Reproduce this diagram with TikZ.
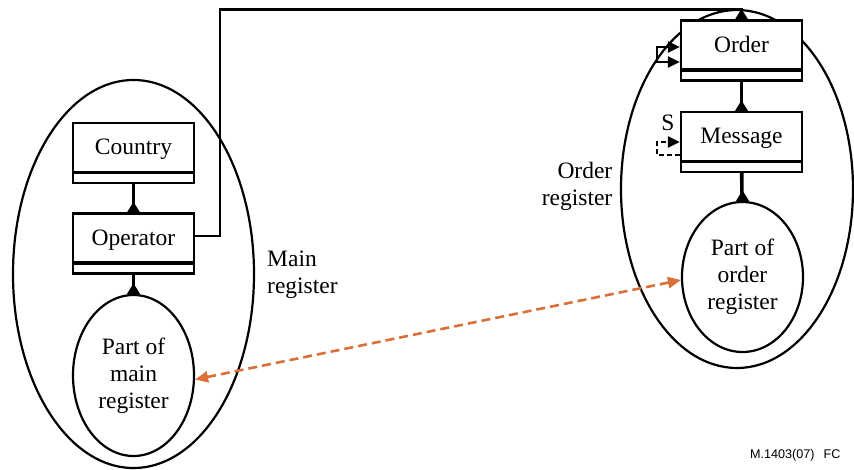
\documentclass[tikz,border=0pt]{standalone}
\usepackage{fontspec}
\setmainfont{Liberation Serif}
\newfontfamily\figfont{Liberation Sans}
\usetikzlibrary{arrows.meta,shapes.geometric}
\definecolor{linkorange}{RGB}{216,112,56}
\begin{document}
\begin{tikzpicture}[x=1pt,y=-1pt,
  txt/.style={font=\fontsize{23.5}{27}\selectfont, inner sep=0pt},
  register/.style={draw, ellipse, line width=2.2pt, inner sep=0pt},
  classbox/.style={txt, draw, line width=2.2pt, fill=white,
    minimum width=121pt, minimum height=60pt,
    text height=16pt, text depth=12pt,
    path picture={\draw[line width=3.6pt]
      ([yshift=10.5pt]path picture bounding box.south west) --
      ([yshift=10.5pt]path picture bounding box.south east);}},
  partell/.style={txt, draw, ellipse, line width=2.2pt, fill=white,
    align=center, minimum width=121pt},
  link/.style={line width=3.6pt},
  refline/.style={line width=2.2pt},
  tip/.style={-{Triangle[length=12pt,width=11pt]}},
  orangelink/.style={draw=linkorange, line width=2.6pt,
    dash pattern=on 9pt off 5pt,
    {Triangle[length=13pt,width=11pt]}-{Triangle[length=13pt,width=11pt]}}
]
\useasboundingbox (0,0) rectangle (854,470);

% register outlines
\node[register, minimum width=241pt, minimum height=388pt] (mainreg) at (133.5,274) {};
\node[register, minimum width=232pt, minimum height=358pt] (ordreg) at (737,189) {};

% main register
\node[classbox] (country) at (133.5,153) {Country};
\node[classbox] (op) at (133.5,243.5) {Operator};
\node[partell, minimum height=161pt] (pm) at (133.5,375.5) {Part of\\main\\register};

% order register
\node[classbox] (order) at (741.5,50.5) {Order};
\node[classbox] (msg) at (741.5,142) {Message};
\node[partell, minimum height=150pt] (po) at (742.5,277) {Part of\\order\\register};

% register names
\node[txt, align=left, anchor=west] (mainname) at (267,274.5) {Main\\register};
\node[txt, align=right, anchor=east] (ordname) at (612.5,186) {Order\\register};

% links inside the registers
\draw[link] (country) -- (op);
\draw[link] (op) -- (pm);
\draw[link] (order) -- (msg);
\draw[link] (msg) -- (po);

% operator to order
\draw[refline] ([yshift=7.5pt]op.east) -| (220,9.5) -| (order.north);

% feet on the dependent side
\foreach \n in {op,pm,order,msg,po}
  \fill (\n.north) +(-6.5,0) -- +(0,-10.5) -- +(6.5,0) -- cycle;

% recursive relation on order
\draw[refline, {Triangle[length=12pt,width=11pt]}-{Triangle[length=12pt,width=11pt]}]
  ([yshift=-11.5pt]order.west) -| ([xshift=-23pt,yshift=3.5pt]order.west)
  -- ([yshift=3.5pt]order.west);

% subtype relation on message
\draw[line width=2.6pt, dash pattern=on 5pt off 3pt, tip]
  ([yshift=-13pt]msg.west) -| ([xshift=-23pt]msg.west) -- (msg.west);
\node[txt] (s) at (668,122.5) {S};

% correspondence between the register parts
\draw[orangelink] ([yshift=-4pt]pm.east) -- ([yshift=-3pt]po.west);

% figure code
\node[font=\figfont\fontsize{12.6}{15}\selectfont, inner sep=0pt, anchor=base west]
  (code) at (750,458) {M.1403(07)\hspace{9pt}FC};
\end{tikzpicture}
\end{document}
